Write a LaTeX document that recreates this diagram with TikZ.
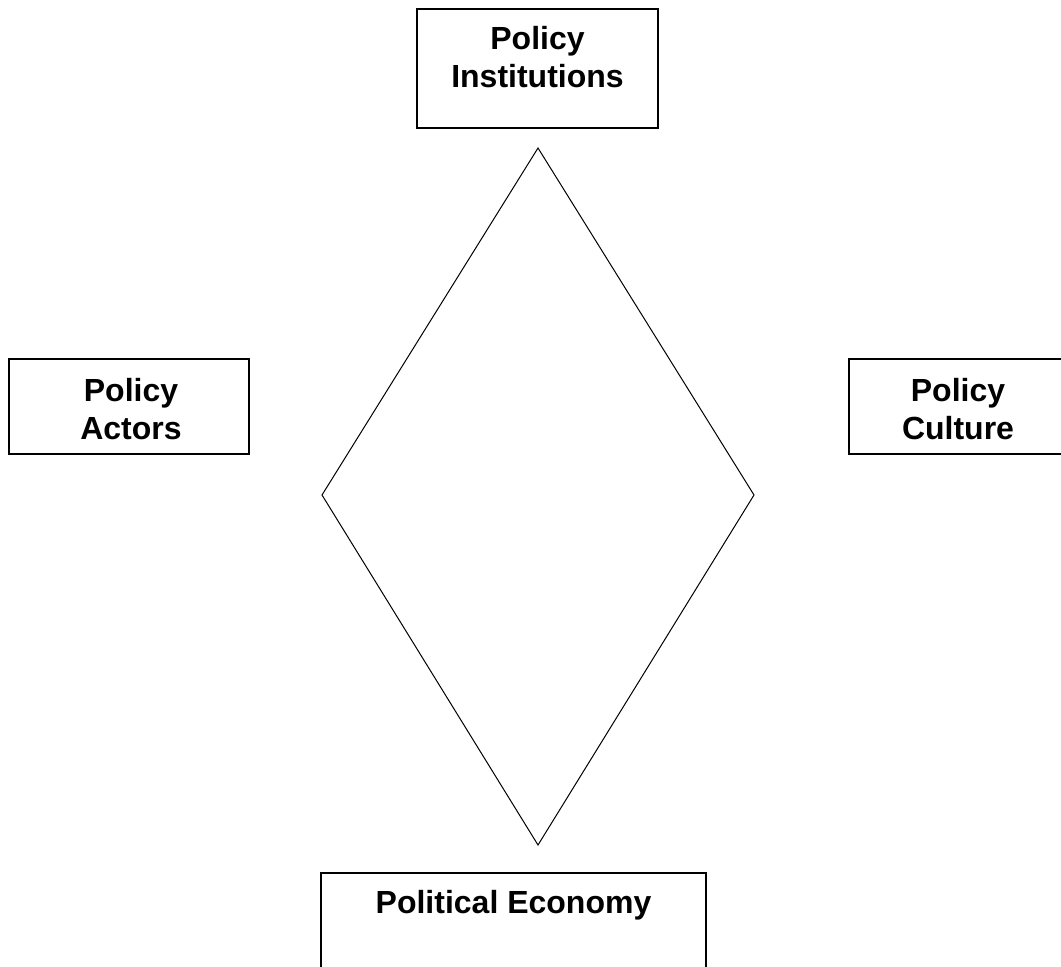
\documentclass[tikz,border=0pt]{standalone}
\usepackage{fontspec}
\setmainfont{Liberation Sans}
\usetikzlibrary{positioning}

\begin{document}
\begin{tikzpicture}[x=1pt, y=-1pt, semithick]
    \tikzstyle{every box}=[
        draw = black,
        line width = 1.4pt,
        inner sep = 0pt
    ]
    \tikzstyle{every caption}=[
        inner sep = 0pt,
        align = center,
        font = \bfseries\fontsize{32}{38}\selectfont
    ]
    \useasboundingbox (0,0) rectangle (1061,967);
    \begin{scope}[every node/.style={every box}]
      \node (inst) [minimum width=241, minimum height=119] at (537.5,68.5) {};
      \node (actors) [minimum width=240, minimum height=95] at (129,406.5) {};
      \node (culture) [minimum width=218, minimum height=95] at (958,406.5) {};
      \node (econ) [minimum width=385, minimum height=130] at (513.5,938) {};
    \end{scope}
    \begin{scope}[every node/.style={every caption}]
      \node (instText) [below=18pt of inst.north] {Policy\\Institutions};
      \node (actorsText) [below=20pt of actors.north, xshift=2pt] {Policy\\Actors};
      \node (cultureText) [below=20pt of culture.north] {Policy\\Culture};
      \node (econText) [below=18pt of econ.north] {Political Economy};
    \end{scope}
    \coordinate (top) at (538,148);
    \coordinate (left) at (322,495);
    \coordinate (right) at (754,495);
    \coordinate (bottom) at (538,845);
    \draw[line width=1pt, line join=miter] (top) -- (right) -- (bottom) -- (left) -- cycle;
\end{tikzpicture}
\end{document}
